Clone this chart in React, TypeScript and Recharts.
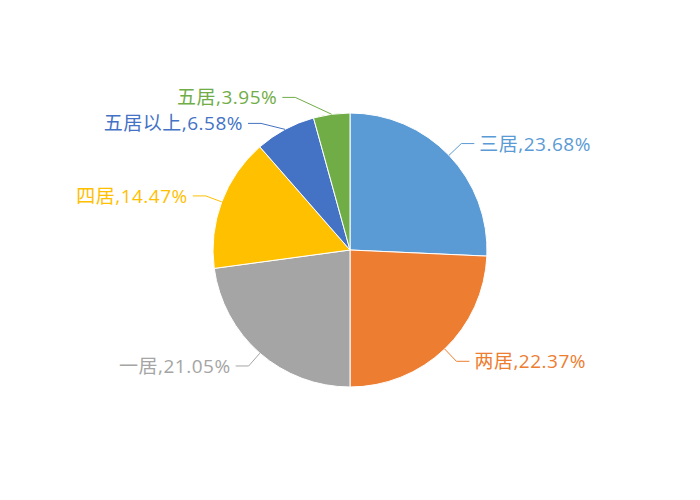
import React from 'react';
import { PieChart, Pie, Cell } from 'recharts';

const categories = ['三居', '两居', '一居', '四居', '五居以上', '五居'];
const shares = [23.68, 22.37, 21.05, 14.47, 6.58, 3.95];
const colors = ['#5B9BD5', '#ED7D31', '#A5A5A5', '#FFC000', '#4472C4', '#70AD47'];

const data = categories.map((name, i) => ({ name, value: shares[i] }));

// small elbow nudges for the crowded labels at the top
const nudges: Record<number, [number, number]> = { 4: [-16, 9], 5: [-34, 0] };

const RADIAN = Math.PI / 180;

const renderLabel = (props: any) => {
  const { cx, cy, midAngle, outerRadius, index } = props;
  const cos = Math.cos(-midAngle * RADIAN);
  const sin = Math.sin(-midAngle * RADIAN);
  const sx = cx + outerRadius * cos;
  const sy = cy + outerRadius * sin;
  const [nx, ny] = nudges[index] || [0, 0];
  const mx = cx + (outerRadius + 17) * cos + nx;
  const my = cy + (outerRadius + 17) * sin + ny;
  const dir = cos >= 0 ? 1 : -1;
  const ex = mx + dir * 13;
  const color = colors[index];
  return (
    <g>
      <polyline points={`${sx},${sy} ${mx},${my} ${ex},${my}`} fill="none" stroke={color} strokeWidth={1} />
      <text
        x={ex + dir * 5}
        y={my}
        fill={color}
        fontSize={19}
        letterSpacing={0.5}
        textAnchor={dir > 0 ? 'start' : 'end'}
        dominantBaseline="central"
      >
        {`${categories[index]},${shares[index].toFixed(2)}%`}
      </text>
    </g>
  );
};

const App: React.FC = () => (
  <div style={{ position: 'absolute', left: 0, top: 0, width: 700, height: 500, background: '#fff', fontFamily: '"Open Sans", "Noto Sans CJK SC", sans-serif' }}>
    <PieChart width={700} height={500} margin={{ top: 0, right: 0, bottom: 0, left: 0 }}>
      <Pie
        data={data}
        dataKey="value"
        nameKey="name"
        cx={350}
        cy={250}
        outerRadius={137}
        startAngle={90}
        endAngle={-270}
        stroke="#fff"
        strokeWidth={1}
        label={renderLabel}
        labelLine={false}
        isAnimationActive={false}
      >
        {data.map((d, i) => (
          <Cell key={d.name} fill={colors[i]} />
        ))}
      </Pie>
    </PieChart>
  </div>
);

export default App;
